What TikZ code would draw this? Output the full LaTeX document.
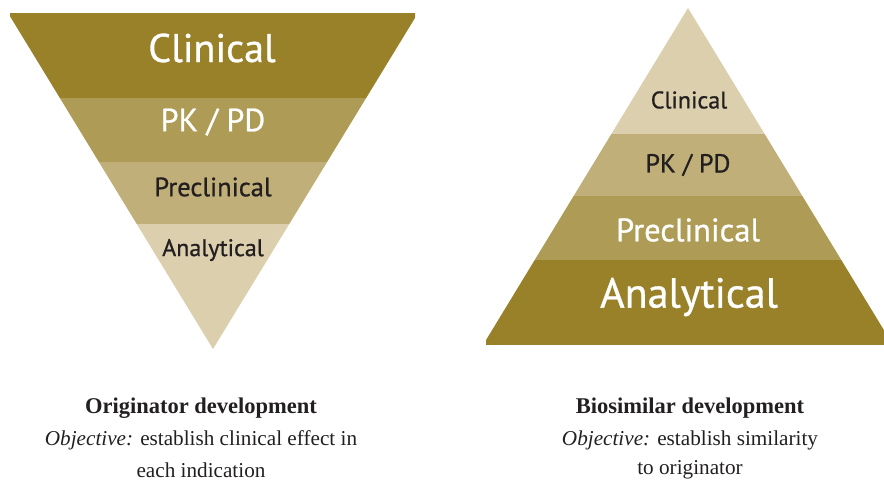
\documentclass[tikz,border=0pt]{standalone}
\usepackage{fontspec}
\setmainfont{Liberation Serif}
\newfontfamily\labelfont[FakeBold=0.8]{PT Sans}
\definecolor{gdark}{RGB}{152,129,41}
\definecolor{gmid}{RGB}{174,155,85}
\definecolor{glight}{RGB}{192,175,120}
\definecolor{gpale}{RGB}{220,207,173}
\definecolor{txtdark}{RGB}{35,31,32}
\tikzset{
  lbl/.style={inner sep=0pt, anchor=center},
  lblw/.style={lbl, text=white},
  lbld/.style={lbl, text=txtdark},
  captext/.style={inner sep=0pt, anchor=center, text=txtdark, align=center}
}
\newcommand{\fs}[1]{\fontsize{#1}{#1}\selectfont}
\begin{document}
\begin{tikzpicture}[x=1pt,y=-1pt]
\useasboundingbox (0,0) rectangle (884,482);
% ---- left inverted triangle
\begin{scope}
  \clip (10,0) rectangle (415,400);
  \clip (8,13) -- (418,13) -- (213,349) -- cycle;
  \fill[gdark] (0,13) rectangle (430,98);
  \fill[gmid] (0,98) rectangle (430,162);
  \fill[glight] (0,162) rectangle (430,224);
  \fill[gpale] (0,224) rectangle (430,350);
\end{scope}
% ---- right pyramid
\begin{scope}
  \clip (486,0) rectangle (884,345);
  \clip (688,8) -- (893,345) -- (483,345) -- cycle;
  \fill[gpale] (480,0) rectangle (890,134);
  \fill[glight] (480,134) rectangle (890,196);
  \fill[gmid] (480,196) rectangle (890,260);
  \fill[gdark] (480,260) rectangle (890,345);
\end{scope}
% ---- labels left
\node[lblw] (lclin) at (212,48) {\labelfont\fs{40}Clinical};
\node[lblw] (lpk) at (213,122) {\labelfont\fs{32}PK / PD};
\node[lbld] (lpre) at (213,187) {\labelfont\fs{26.5}Preclinical};
\node[lbld] (lana) at (213,250) {\labelfont\fs{24}Analytical};
% ---- labels right
\node[lbld] (rclin) at (689,100) {\labelfont\fs{24}Clinical};
\node[lbld] (rpk) at (688,165) {\labelfont\fs{26}PK / PD};
\node[lblw] (rpre) at (688,230) {\labelfont\fs{32.5}Preclinical};
\node[lblw] (rana) at (689,297) {\labelfont\fs{42}Analytical};
% ---- captions
\node[captext] (lt) at (201,408) {\fs{22.5}\bfseries Originator development};
\node[captext] (lo) at (201,440) {\fs{21.2}\textit{Objective:} establish clinical effect in};
\node[captext] (li) at (201,470) {\fs{21.2}each indication};
\node[captext] (rt) at (690,408) {\fs{22.5}\bfseries Biosimilar development};
\node[captext] (ro) at (690,440) {\fs{21.2}\textit{Objective:} establish similarity};
\node[captext] (ri) at (690,470) {\fs{21.2}to originator};
\end{tikzpicture}
\end{document}
